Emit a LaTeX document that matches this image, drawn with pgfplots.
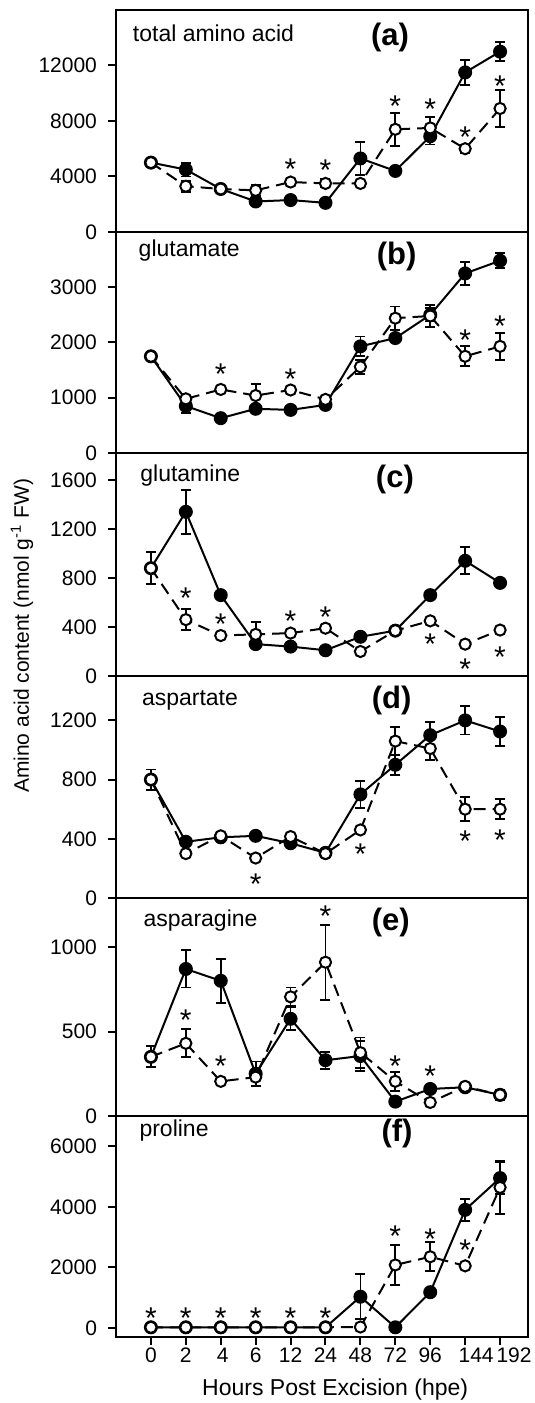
\documentclass[border=0pt]{standalone}
\usepackage{fontspec}
\setmainfont{Liberation Sans}
\usepackage{pgfplots}
\pgfplotsset{compat=1.18}
\tikzset{
  panelname/.style={anchor=base west, font=\fontsize{11.5}{14}\selectfont},
  paneltag/.style={anchor=center, font=\fontsize{15.5}{18}\bfseries\selectfont},
}
\pgfplotsset{
  panel/.style={
    scale only axis, width=206pt,
    xmin=-1, xmax=10.8,
    axis line style={line width=1pt},
    xtick=\empty,
    tick pos=left,
    tick align=outside,
    major tick length=4pt,
    every tick/.style={black, line width=1pt},
    scaled y ticks=false,
    yticklabel style={font=\fontsize{10.5}{12}\selectfont, xshift=-2pt},
    xticklabel style={font=\fontsize{10.5}{12}\selectfont, yshift=2pt},
    /pgf/number format/assume math mode=true,
    /pgf/number format/1000 sep={},
    anchor=south west,
    clip=false,
  },
  filled/.style={black, line width=1pt, solid, mark=*, mark size=3.1pt,
    mark options={solid, fill=black, line width=0.8pt},
    error bars/.cd, y dir=both, y explicit,
    error bar style={line width=0.9pt, solid},
    error mark options={rotate=90, mark size=2.5pt, line width=0.9pt, solid}},
  open/.style={black, line width=1pt, dash pattern=on 6pt off 3.5pt, mark=*, mark size=2.8pt,
    mark options={solid, fill=white, line width=1pt},
    error bars/.cd, y dir=both, y explicit,
    error bar style={line width=0.9pt, solid},
    error mark options={rotate=90, mark size=2.5pt, line width=0.9pt, solid}},
  stars/.style={only marks, mark=none, nodes near coords={*}, nodes near coords align={center},
    every node near coord/.append style={font=\fontsize{15}{17}\selectfont, inner sep=0pt, yshift=-3.1pt}},
}
\begin{document}
\begin{tikzpicture}
\useasboundingbox (0,0) rectangle (267.5pt,701.5pt);

% (a) total amino acid
\begin{axis}[panel, at={(58pt,585.5pt)}, height=111pt, ymin=0, ymax=16000, ytick={0,4000,8000,12000}]
\addplot[filled] table[x=x,y=y,y error=e] {
x y e
0 5000 0
1 4500 500
2 3100 0
3 2200 0
4 2300 0
5 2100 0
6 5300 1200
7 4400 0
8 6900 600
9 11500 900
10 13000 700
};
\addplot[open] table[x=x,y=y,y error=e] {
x y e
0 5000 0
1 3300 400
2 3100 0
3 3000 400
4 3600 200
5 3500 300
6 3500 0
7 7400 1200
8 7500 800
9 6000 300
10 8900 1350
};
\addplot[stars] coordinates {(4,4950) (5,4900) (7,9500) (8,9280) (9,7300) (10,10950)};
\node[panelname] at (rel axis cs:0.024,0.857) {total amino acid};
\node[paneltag] at (rel axis cs:0.665,0.874) {(a)};
\end{axis}

% (b) glutamate
\begin{axis}[panel, at={(58pt,475pt)}, height=110.5pt, ymin=0, ymax=4000, ytick={0,1000,2000,3000}]
\addplot[filled] table[x=x,y=y,y error=e] {
x y e
0 1750 60
1 850 120
2 630 0
3 800 0
4 780 0
5 870 0
6 1930 180
7 2080 0
8 2500 120
9 3250 210
10 3480 135
};
\addplot[open] table[x=x,y=y,y error=e] {
x y e
0 1750 0
1 980 0
2 1150 0
3 1040 210
4 1140 0
5 970 0
6 1560 130
7 2440 210
8 2480 200
9 1750 180
10 1930 240
};
\addplot[stars] coordinates {(2,1530) (4,1450) (9,2160) (10,2400)};
\node[panelname] at (rel axis cs:0.038,0.888) {glutamate};
\node[paneltag] at (rel axis cs:0.681,0.888) {(b)};
\end{axis}

% (c) glutamine
\begin{axis}[panel, at={(58pt,363.5pt)}, height=111.5pt, ymin=0, ymax=1820, ytick={0,400,800,1200,1600}]
\addplot[filled] table[x=x,y=y,y error=e] {
x y e
0 880 0
1 1340 180
2 660 0
3 260 0
4 240 0
5 210 0
6 320 0
7 370 0
8 660 0
9 940 110
10 760 0
};
\addplot[open] table[x=x,y=y,y error=e] {
x y e
0 880 130
1 460 85
2 330 0
3 340 100
4 350 0
5 390 0
6 200 0
7 370 0
8 450 0
9 260 0
10 375 0
};
\addplot[stars] coordinates {(1,683) (2,471) (4,498) (5,531) (8,313) (9,103) (10,204)};
\node[panelname] at (rel axis cs:0.042,0.874) {glutamine};
\node[paneltag] at (rel axis cs:0.677,0.879) {(c)};
\end{axis}

% (d) aspartate
\begin{axis}[panel, at={(58pt,252.5pt)}, height=111pt, ymin=0, ymax=1500, ytick={0,400,800,1200}]
\addplot[filled] table[x=x,y=y,y error=e] {
x y e
0 800 0
1 380 0
2 410 0
3 420 0
4 370 0
5 305 0
6 700 90
7 900 68
8 1100 90
9 1200 95
10 1125 97
};
\addplot[open] table[x=x,y=y,y error=e] {
x y e
0 800 68
1 300 0
2 420 0
3 270 0
4 415 0
5 300 0
6 460 0
7 1060 95
8 1010 80
9 600 80
10 600 68
};
\addplot[stars] coordinates {(3,133) (6,337) (9,427) (10,434)};
\node[panelname] at (rel axis cs:0.046,0.869) {aspartate};
\node[paneltag] at (rel axis cs:0.669,0.889) {(d)};
\end{axis}

% (e) asparagine
\begin{axis}[panel, at={(58pt,143.5pt)}, height=109pt, ymin=0, ymax=1290, ytick={0,500,1000}]
\addplot[filled] table[x=x,y=y,y error=e] {
x y e
0 350 0
1 870 110
2 800 130
3 250 73
4 575 68
5 330 50
6 355 88
7 85 0
8 160 0
9 170 0
10 125 0
};
\addplot[open] table[x=x,y=y,y error=e] {
x y e
0 350 62
1 430 83
2 205 0
3 230 0
4 705 55
5 910 222
6 375 90
7 205 55
8 80 0
9 175 0
10 125 30
};
\addplot[stars] coordinates {(1,604) (2,329) (5,1218) (7,329) (8,271)};
\node[panelname] at (rel axis cs:0.050,0.868) {asparagine};
\node[paneltag] at (rel axis cs:0.667,0.889) {(e)};
\end{axis}

% (f) proline
\begin{axis}[panel, at={(58pt,33pt)}, height=110.5pt, ymin=-300, ymax=7000, ytick={0,2000,4000,6000},
  xtick={0,...,10},
  xticklabels={0,2\hspace{4pt},\hspace{2pt}4,6,12,24,48,72,96,\hspace{11pt}144,\hspace{14pt}192},
  xlabel={Hours Post Excision (hpe)},
  xlabel style={font=\fontsize{11.5}{14}\selectfont, at={(axis description cs:0.532,0)}, anchor=base, yshift=-29.5pt}]
\addplot[filled] table[x=x,y=y,y error=e] {
x y e
0 20 0
1 20 0
2 20 0
3 20 0
4 20 0
5 20 0
6 1030 740
7 20 0
8 1180 0
9 3900 370
10 4950 530
};
\addplot[open] table[x=x,y=y,y error=e] {
x y e
0 20 0
1 20 0
2 20 0
3 20 0
4 20 0
5 20 0
6 30 0
7 2080 670
8 2350 480
9 2050 0
10 4640 890
};
\addplot[stars] coordinates {(0,537) (1,537) (2,537) (3,537) (4,537) (5,537) (7,3230) (8,3120) (9,2760)};
\node[panelname] at (rel axis cs:0.040,0.906) {proline};
\node[paneltag] at (rel axis cs:0.682,0.923) {(f)};
\end{axis}

\node[rotate=90, font=\fontsize{10.5}{12}\selectfont] at (11pt,383.5pt) {Amino acid content (nmol g\textsuperscript{-1} FW)};
\end{tikzpicture}
\end{document}
